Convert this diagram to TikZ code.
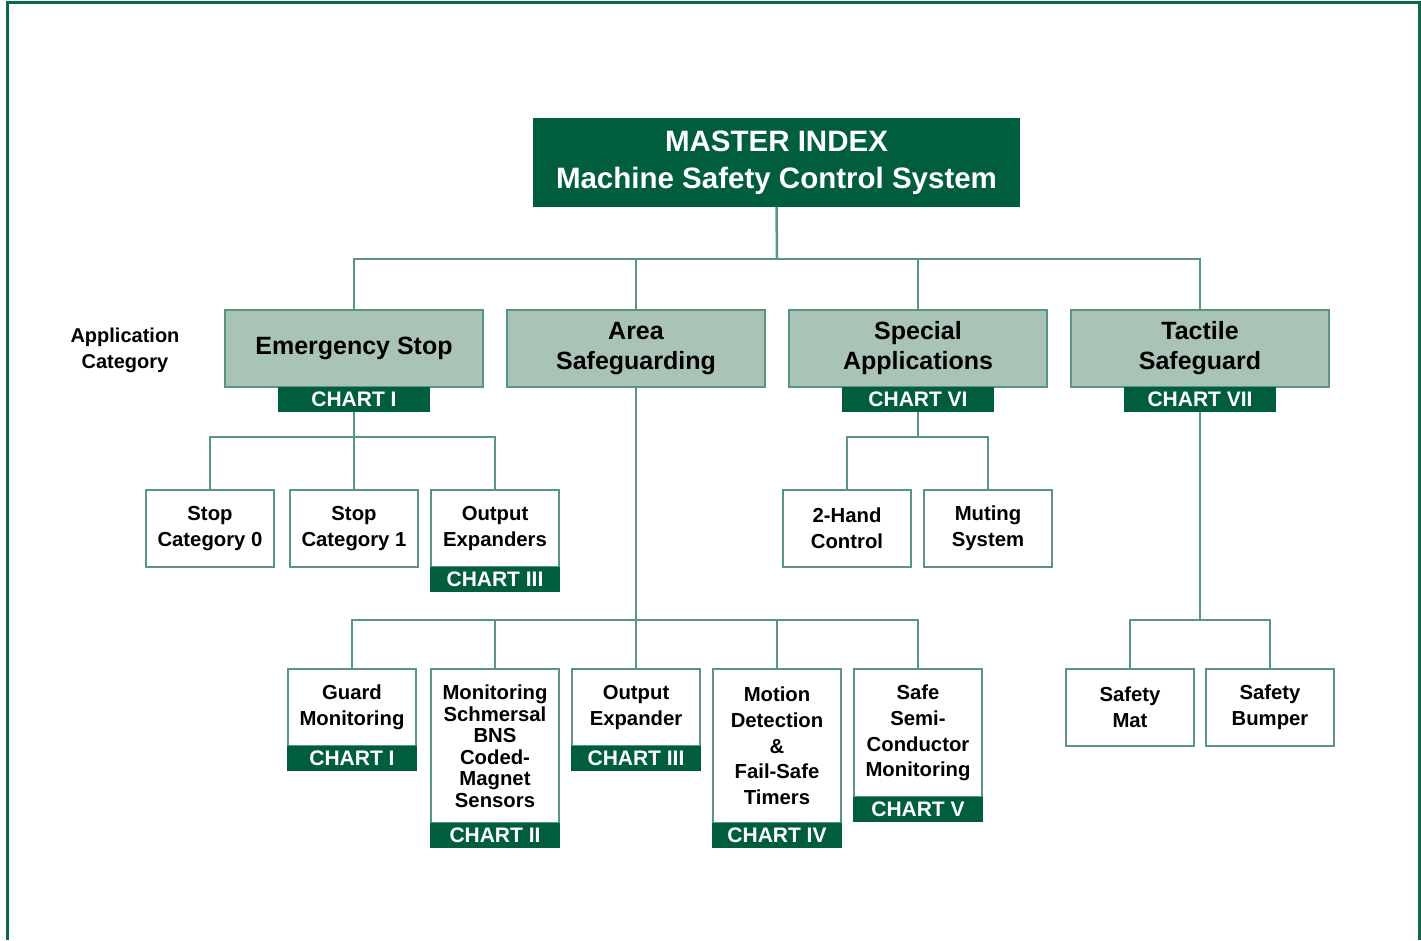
\documentclass[tikz,border=0pt]{standalone}
\usepackage{fontspec}
\setmainfont{Liberation Sans}
\usetikzlibrary{positioning}
\definecolor{darkgrn}{HTML}{005E3F}
\definecolor{palegrn}{HTML}{A9C4B6}
\definecolor{linegrn}{HTML}{5A957D}
\definecolor{framegrn}{HTML}{0B6B47}

\begin{document}
\begin{tikzpicture}[x=1pt,y=-1pt,
    catbox/.style={draw=linegrn,line width=2pt,fill=palegrn,minimum width=258pt,minimum height=77pt,
        align=center,inner sep=0pt,outer sep=0pt,font=\fontsize{25}{30}\selectfont\bfseries},
    leaf/.style={draw=linegrn,line width=2.5pt,fill=white,minimum width=128pt,minimum height=77pt,
        align=center,inner sep=0pt,outer sep=0pt,anchor=north,font=\fontsize{20.3}{25.7}\selectfont\bfseries},
    tab/.style={fill=darkgrn,text=white,minimum width=130pt,minimum height=25pt,inner sep=0pt,outer sep=0pt,
        font=\fontsize{21}{21}\selectfont\bfseries},
    wire/.style={draw=linegrn,line width=2.5pt}]
\useasboundingbox (0,0) rectangle (1421,940);
\draw[framegrn,line width=3pt] (7,940) -- (7,2) -- (1419,2) -- (1419,940);

\node[fill=darkgrn,text=white,minimum width=487pt,minimum height=89pt,align=center,inner sep=0pt,outer sep=0pt,
    font=\fontsize{29.5}{37}\selectfont\bfseries] (master) at (776.5,162.5) {MASTER INDEX\\Machine Safety Control System};

\node[align=center,font=\fontsize{20}{26}\selectfont\bfseries] (appcat) at (125,350) {Application\\Category};

% application categories
\node[catbox] (es) at (354,348.5) {Emergency Stop};
\node[catbox] (as) at (636,348.5) {Area\\Safeguarding};
\node[catbox] (sa) at (918,348.5) {Special\\Applications};
\node[catbox] (tt) at (1200,348.5) {Tactile\\Safeguard};
\node[tab,minimum width=152pt,below=0pt of es] (esch) {CHART I};
\node[tab,minimum width=152pt,below=0pt of sa] (sach) {CHART VI};
\node[tab,minimum width=152pt,below=0pt of tt] (ttch) {CHART VII};

\coordinate (topbar) at (777,259);
\draw[wire] (master.south) -- (topbar);
\draw[wire] (es.north) |- (topbar) -| (tt.north);
\draw[wire] (as.north) -- (as.north |- topbar);
\draw[wire] (sa.north) -- (sa.north |- topbar);

% emergency stop
\node[leaf] (sc0) at (210,490) {Stop\\Category 0};
\node[leaf] (sc1) at (354,490) {Stop\\Category 1};
\node[leaf] (oe) at (495,490) {Output\\Expanders};
\node[tab,below=0pt of oe] (oech) {CHART III};
\coordinate (esbar) at (354,437);
\draw[wire] (esch.south) -- (sc1.north);
\draw[wire] (sc0.north) |- (esbar) -| (oe.north);

% special applications
\node[leaf] (hc) at (847,490) {2-Hand\\Control};
\node[leaf] (ms) at (988,490) {Muting\\System};
\coordinate (sabar) at (918,437);
\draw[wire] (sach.south) -- (sabar);
\draw[wire] (hc.north) |- (sabar) -| (ms.north);

% area safeguarding
\node[leaf] (gm) at (352,669) {Guard\\Monitoring};
\node[tab,below=0pt of gm] (gmch) {CHART I};
\node[leaf,minimum height=154pt,font=\fontsize{20.3}{21.5}\selectfont\bfseries] (bns) at (495,669)
    {Monitoring\\Schmersal\\BNS\\Coded-\\Magnet\\Sensors};
\node[tab,below=0pt of bns] (bnsch) {CHART II};
\node[leaf] (ox) at (636,669) {Output\\Expander};
\node[tab,below=0pt of ox] (oxch) {CHART III};
\node[leaf,minimum height=154pt] (md) at (777,669) {Motion\\Detection\\\&\\Fail-Safe\\Timers};
\node[tab,below=0pt of md] (mdch) {CHART IV};
\node[leaf,minimum height=128pt] (ssc) at (918,669) {Safe\\Semi-\\Conductor\\Monitoring};
\node[tab,below=0pt of ssc] (sscch) {CHART V};
\coordinate (asbar) at (636,620);
\draw[wire] (as.south) -- (ox.north);
\draw[wire] (gm.north) |- (asbar) -| (ssc.north);
\draw[wire] (bns.north) -- (bns.north |- asbar);
\draw[wire] (md.north) -- (md.north |- asbar);

% tactile safeguard
\node[leaf] (sm) at (1130,669) {Safety\\Mat};
\node[leaf] (sb) at (1270,669) {Safety\\Bumper};
\coordinate (ttbar) at (1200,620);
\draw[wire] (ttch.south) -- (ttbar);
\draw[wire] (sm.north) |- (ttbar) -| (sb.north);
\end{tikzpicture}
\end{document}
